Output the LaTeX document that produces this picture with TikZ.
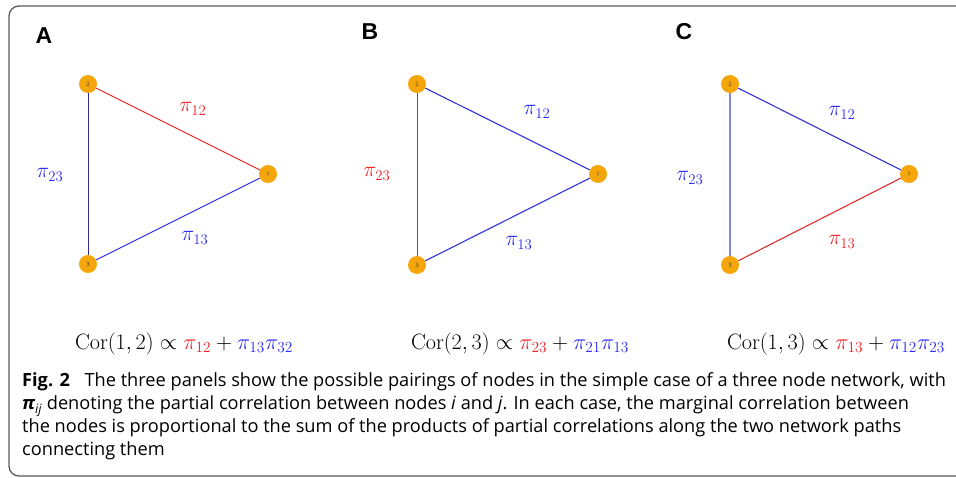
\documentclass[tikz,border=0pt]{standalone}
\usepackage[no-math]{fontspec}
\setmainfont{Open Sans}
\newfontfamily\panelfont{Liberation Sans}
\definecolor{ndorange}{RGB}{245,166,10}
\definecolor{pired}{RGB}{240,30,35}
\definecolor{piblue}{RGB}{40,40,240}
\definecolor{edgered}{RGB}{222,45,45}
\definecolor{edgeblue}{RGB}{50,50,215}
\definecolor{edgenavy}{RGB}{45,45,150}
\definecolor{edgebrown}{RGB}{200,45,45}
\definecolor{framegray}{RGB}{90,90,90}
\usetikzlibrary{positioning}

\begin{document}
\begin{tikzpicture}[x=1pt, y=-1pt,
        vtx/.style={circle, fill=ndorange, draw=none, minimum size=18pt, inner sep=0pt,
                    text=black!75, font=\fontsize{6}{6}\selectfont},
        redge/.style={draw=edgered, line width=1.1pt},
        bedge/.style={draw=edgeblue, line width=1.1pt},
        plbl/.style={scale=1.03, font=\fontsize{21}{21}\selectfont},
        panel/.style={font=\panelfont\bfseries\fontsize{23}{23}\selectfont},
        corf/.style={anchor=base, scale=1.07, font=\fontsize{21}{21}\selectfont}
      ]
        \useasboundingbox (0,0) rectangle (956,478);
        \draw[rounded corners=10pt, draw=framegray, line width=1.3pt] (9,6) rectangle (980,476);

        % panel A
        \node[panel] (pA) at (44,36) {A};
        \node[vtx] (a1) at (268,174) {1};
        \node[vtx] (a2) at (88,84) {2};
        \node[vtx] (a3) at (88,264) {3};
        \draw[redge] (a2) -- (a1);
        \draw[bedge, draw=edgenavy, line width=0.9pt] (a2) -- (a3);
        \draw[bedge] (a3) -- (a1);
        \node[plbl, text=pired] (a12) at (193,109) {$\pi_{12}$};
        \node[plbl, text=piblue] (a23) at (50,175) {$\pi_{23}$};
        \node[plbl, text=piblue] (a13) at (195,238) {$\pi_{13}$};
        \node[corf] (corA) at (184,349) {$\mathrm{Cor}(1,2)\propto{\color{pired}\pi_{12}}+{\color{piblue}\pi_{13}\pi_{32}}$};

        % panel B
        \node[panel] (pB) at (370,32) {B};
        \node[vtx] (b1) at (598,174) {1};
        \node[vtx] (b2) at (417,84) {2};
        \node[vtx] (b3) at (417,265) {3};
        \draw[bedge] (b2) -- (b1);
        \draw[redge, draw=edgebrown, line width=1pt] (b2) -- (b3);
        \draw[bedge] (b3) -- (b1);
        \node[plbl, text=piblue] (b12) at (537,112) {$\pi_{12}$};
        \node[plbl, text=pired] (b23) at (377,174) {$\pi_{23}$};
        \node[plbl, text=piblue] (b13) at (519,243) {$\pi_{13}$};
        \node[corf] (corB) at (520,349) {$\mathrm{Cor}(2,3)\propto{\color{pired}\pi_{23}}+{\color{piblue}\pi_{21}\pi_{13}}$};

        % panel C
        \node[panel] (pC) at (684,32) {C};
        \node[vtx] (c1) at (909,174) {1};
        \node[vtx] (c2) at (730,84) {2};
        \node[vtx] (c3) at (730,265) {3};
        \draw[bedge] (c2) -- (c1);
        \draw[bedge, draw=edgeblue!60, line width=1.5pt] (c2) -- (c3);
        \draw[redge] (c3) -- (c1);
        \node[plbl, text=piblue] (c12) at (842,113) {$\pi_{12}$};
        \node[plbl, text=piblue] (c23) at (690,178) {$\pi_{23}$};
        \node[plbl, text=pired] (c13) at (842,242) {$\pi_{13}$};
        \node[corf] (corC) at (836,349) {$\mathrm{Cor}(1,3)\propto{\color{pired}\pi_{13}}+{\color{piblue}\pi_{12}\pi_{23}}$};

        % caption
        \node[anchor=north west, align=left, inner sep=0pt,
              font=\fontsize{18.2}{23}\selectfont] (capt) at (22,372.5)
          {\textbf{Fig. 2}\hspace{0.55em} The three panels show the possible pairings of nodes in the simple case of a three node network, with\\
           {\bfseries\itshape π}\textsubscript{\itshape ij} denoting the partial correlation between nodes \textit{i} and \textit{j}. In each case, the marginal correlation between\\
           the nodes is proportional to the sum of the products of partial correlations along the two network paths\\
           connecting them};
      \end{tikzpicture}
\end{document}
